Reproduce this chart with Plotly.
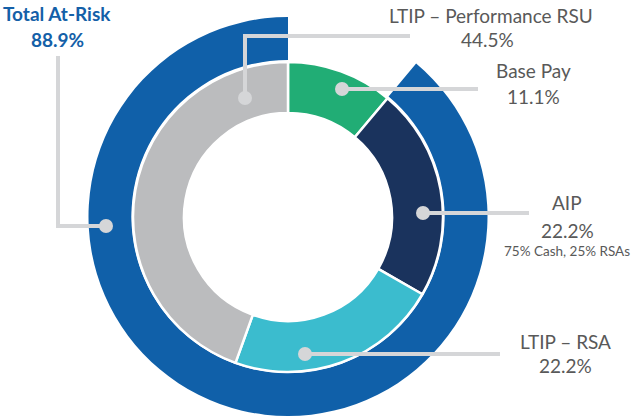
import plotly.graph_objects as go

# ---- data ----
inner_labels = ["Base Pay", "AIP", "LTIP – RSA", "LTIP – Performance RSU"]
inner_values = [11.1, 22.2, 22.2, 44.5]
inner_colors = ["#21AD75", "#1A335D", "#3BBCCE", "#BBBCBE"]

outer_labels = ["Base Pay", "Total At-Risk"]
outer_values = [11.1, 88.9]
outer_colors = ["rgba(255,255,255,0)", "#1060A9"]

aip_note = "75% Cash, 25% RSAs"

W, H = 640, 416
CX, CY = 288, 217
R_OUT, R_IN, R_HOLE = 200, 155, 104


def px(x):
    return x / W


def py(y):
    return 1 - y / H


fig = go.Figure()

fig.add_trace(go.Pie(
    labels=outer_labels, values=outer_values, sort=False,
    direction="clockwise", rotation=0, hole=(R_IN + 2) / R_OUT,
    marker=dict(colors=outer_colors, line=dict(color="white", width=0)),
    textinfo="none", hoverinfo="skip", showlegend=False,
    domain=dict(x=[px(CX - R_OUT), px(CX + R_OUT)],
                y=[max(0, py(CY + R_OUT)), py(CY - R_OUT)]),
))

fig.add_trace(go.Pie(
    labels=inner_labels, values=inner_values, sort=False,
    direction="clockwise", rotation=0, hole=R_HOLE / R_IN,
    marker=dict(colors=inner_colors, line=dict(color="white", width=2.5)),
    textinfo="none", hoverinfo="skip", showlegend=False,
    domain=dict(x=[px(CX - R_IN), px(CX + R_IN)],
                y=[py(CY + R_IN), py(CY - R_IN)]),
))

LINE = "#D5D6D8"
shapes = []


def path(points):
    d = "M " + " L ".join(f"{px(x)},{py(y)}" for x, y in points)
    shapes.append(dict(type="path", xref="paper", yref="paper", path=d,
                       line=dict(color=LINE, width=4), layer="above"))


def dot(x, y, r=7):
    shapes.append(dict(type="circle", xref="paper", yref="paper",
                       x0=px(x - r), x1=px(x + r), y0=py(y + r), y1=py(y - r),
                       fillcolor=LINE, line=dict(width=0), layer="above"))


path([(58, 56), (58, 226), (106, 226)]); dot(106, 226)
path([(410, 36), (245, 36), (245, 98)]); dot(245, 98)
path([(342, 89), (478, 89)]); dot(342, 89)
path([(423, 213), (529, 213)]); dot(423, 213)
path([(305, 354), (500, 354)]); dot(305, 354)

FONT = "Lato"
GRAY = "#595959"
BLUE = "#1460A8"
annos = []


def label(text, x, y, size=19, color=GRAY, bold=False):
    t = f"<b>{text}</b>" if bold else text
    annos.append(dict(text=t, x=px(x), y=py(y), xref="paper", yref="paper",
                      xanchor="center", yanchor="middle", showarrow=False,
                      font=dict(family=FONT, size=size, color=color)))


label(outer_labels[1], 57, 13, size=19, color=BLUE, bold=True)
label(f"{outer_values[1]}%", 57, 39, size=19, color=BLUE, bold=True)
label(inner_labels[3], 491, 16)
label(f"{inner_values[3]}%", 487, 39)
label(inner_labels[0], 533, 71)
label(f"{inner_values[0]}%", 533, 97)
label(inner_labels[1], 567, 203)
label(f"{inner_values[1]}%", 567, 230)
label(aip_note, 567, 251, size=13.5)
label(inner_labels[2], 565, 341)
label(f"{inner_values[2]}%", 565, 365)

fig.update_layout(
    width=W, height=H, margin=dict(l=0, r=0, t=0, b=0),
    paper_bgcolor="white", plot_bgcolor="white",
    shapes=shapes, annotations=annos,
)

fig.write_html(
    "out.html",
    config={"displayModeBar": False, "staticPlot": True},
    post_script="document.body.style.margin='0px';document.body.style.overflow='hidden';",
)
